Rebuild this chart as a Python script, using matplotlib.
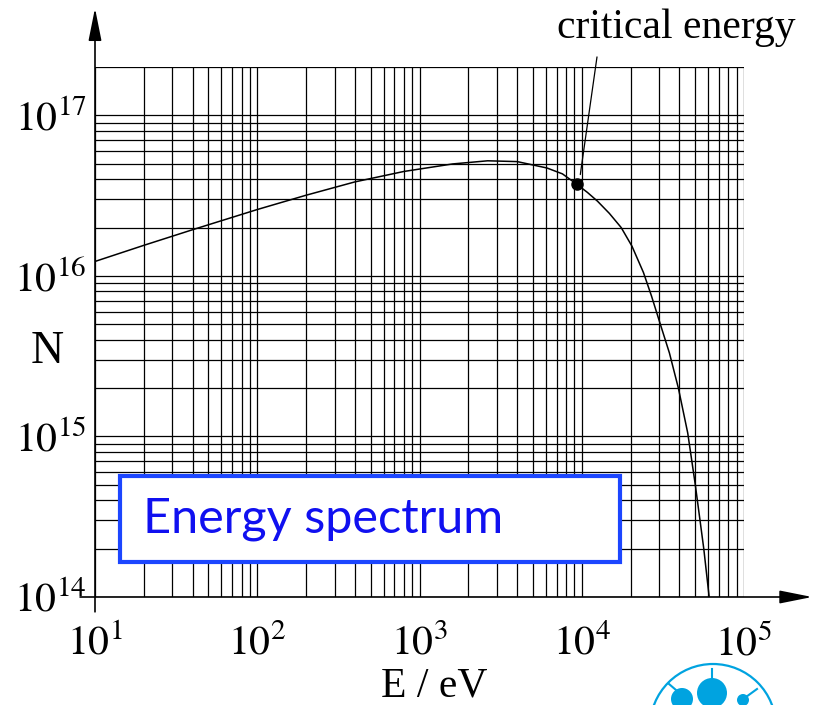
import math
import matplotlib
matplotlib.use("Agg")
import matplotlib.pyplot as plt
from matplotlib.patches import Rectangle, Circle
from matplotlib.ticker import LogLocator, FuncFormatter, NullFormatter

# values
energy = [10, 20, 40, 100, 200, 400, 800, 1600, 2630, 4000, 6100, 7600, 9330,
          10840, 12500, 14800, 17500, 20400, 24000, 26900, 30500, 34700,
          39400, 45000, 50100, 56500, 61000]
counts = [1.23e16, 1.55e16, 1.94e16, 2.59e16, 3.18e16, 3.85e16, 4.47e16,
          4.98e16, 5.21e16, 5.15e16, 4.70e16, 4.32e16, 3.72e16,
          3.31e16, 2.92e16, 2.45e16, 2.0e16, 1.53e16, 1.05e16, 7.5e15, 5.0e15,
          3.31e15, 2.0e15, 1.05e15, 5.0e14, 2.0e14, 1.0e14]
crit_E = 9330
crit_N = 3.72e16

plt.rcParams['font.family'] = 'serif'
plt.rcParams['font.serif'] = ['Liberation Serif', 'DejaVu Serif']
plt.rcParams['mathtext.fontset'] = 'stix'

fig = plt.figure(figsize=(8.15, 7.05), dpi=100)
ax = fig.add_axes([95/815, 1-597/705, 649/815, 530/705])

ax.set_xscale('log')
ax.set_yscale('log')
ax.set_xlim(10, 1e5)
ax.set_ylim(1e14, 2e17)

for a in (ax.xaxis, ax.yaxis):
    a.set_major_locator(LogLocator(base=10))
    a.set_minor_locator(LogLocator(base=10, subs=range(2, 10)))
    a.set_minor_formatter(NullFormatter())
    a.set_major_formatter(FuncFormatter(lambda v, p: r'$10^{%d}$' % round(math.log10(v))))

ax.grid(True, which='both', color='black', lw=0.9)
ax.set_axisbelow(True)
ax.tick_params(which='both', length=0)
ax.tick_params(axis='y', labelsize=30, pad=6)
ax.tick_params(axis='x', labelsize=30, pad=20)
for s in ax.spines.values():
    s.set_visible(False)

ax.plot(energy, counts, color='black', lw=1.1, zorder=3, solid_joinstyle='round')
ax.plot([crit_E], [crit_N], 'o', color='black', ms=8, zorder=4)

# axis arrows
arr = dict(arrowstyle='-|>,head_length=2.0,head_width=0.4', lw=1.2, color='black',
           mutation_scale=10, shrinkA=0, shrinkB=0)
ax.annotate('', xy=(0, 1.111), xytext=(0, -0.028), xycoords='axes fraction',
            textcoords='axes fraction', arrowprops=arr, annotation_clip=False)
ax.annotate('', xy=(1.105, 0), xytext=(-0.023, 0), xycoords='axes fraction',
            textcoords='axes fraction', arrowprops=arr, annotation_clip=False)

ax.set_ylabel('N', fontsize=33, rotation=0, va='center', ha='center')
ax.yaxis.set_label_coords(-0.073, 0.462)
ax.set_xlabel('E / eV', fontsize=30, va='center')
ax.xaxis.set_label_coords(0.5225, -0.168)

# critical energy label
ax.text(0.895, 1.055, 'critical energy', transform=ax.transAxes, fontsize=30,
        ha='center', va='baseline')
ax.annotate('', xy=(crit_E * 1.05, crit_N * 1.15), xytext=(0.7735, 1.019),
            textcoords='axes fraction', annotation_clip=False,
            arrowprops=dict(arrowstyle='-', lw=0.9, color='black',
                            shrinkA=0, shrinkB=0))

# title box
ax.add_patch(Rectangle((0.0385, 0.066), 0.7705, 0.162, transform=ax.transAxes,
                       fc='white', ec='#1c46ff', lw=3, zorder=5, clip_on=False))
ax.text(0.074, 0.147, 'Energy spectrum', transform=ax.transAxes, fontsize=35,
        family='Lato', color='#1010f0', va='center', ha='left', zorder=6)

# logo fragment bottom right
ov = fig.add_axes([0, 0, 1, 1], zorder=-1)
ov.set_xlim(0, 815)
ov.set_ylim(705, 0)
ov.axis('off')
blue = '#00a3e0'
ov.add_patch(Circle((713, 727), 63, fc='none', ec=blue, lw=1.6))
ov.add_patch(Circle((712, 693), 15, fc=blue, ec='none'))
ov.plot([712, 712], [678, 669], color=blue, lw=1.5)
ov.add_patch(Circle((682, 699), 11, fc=blue, ec='none'))
ov.plot([676, 669], [690, 684], color=blue, lw=1.5)
ov.add_patch(Circle((743, 700), 6, fc=blue, ec='none'))
ov.plot([746, 757], [697, 689], color=blue, lw=1.5)

fig.savefig('out.png', dpi=100)
